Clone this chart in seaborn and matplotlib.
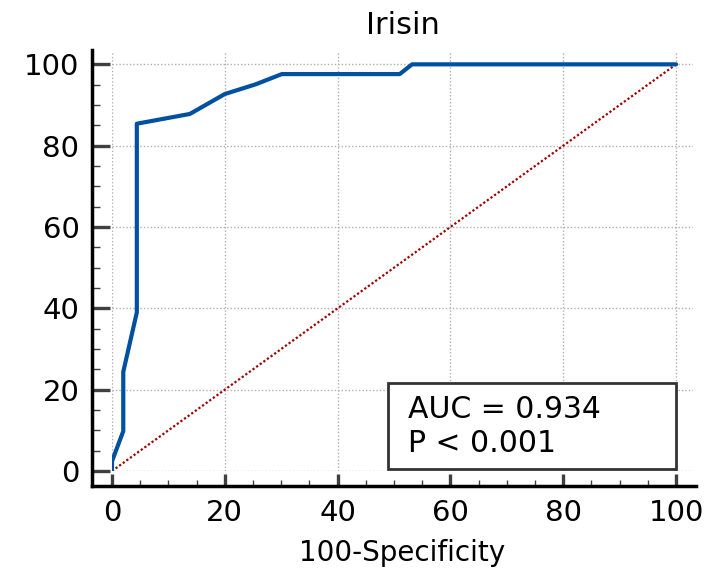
import matplotlib
matplotlib.use("Agg")
import pandas as pd
import seaborn as sns
from matplotlib import pyplot as plt
from matplotlib.patches import Rectangle
from matplotlib.ticker import MultipleLocator

# ROC-Kurve
fpr = [0, 0, 2.0, 2.0, 4.4, 4.4, 13.8, 20.0, 25.5, 30.1, 51.0, 53.2, 100]
tpr = [0, 2.4, 9.8, 24.4, 39.0, 85.4, 87.8, 92.7, 95.1, 97.6, 97.6, 100, 100]
diag = [0, 100]

title = "Irisin"
xlabel = "100-Specificity"
auc_text = "AUC = 0.934\nP < 0.001"

sns.set_style("ticks")
plt.rcParams["font.family"] = ["DejaVu Sans"]
plt.rcParams["text.color"] = "black"
plt.rcParams["axes.labelcolor"] = "black"
plt.rcParams["xtick.color"] = "#404040"
plt.rcParams["ytick.color"] = "#404040"
plt.rcParams["xtick.labelcolor"] = "black"
plt.rcParams["ytick.labelcolor"] = "black"

roc = pd.DataFrame({"fpr": fpr, "tpr": tpr})
ref = pd.DataFrame({"x": diag, "y": diag})

fig = plt.figure(figsize=(7.12, 5.73), dpi=100)
ax = fig.add_axes([0.1573, 0.178, 0.816, 0.731])

sns.lineplot(data=ref, x="x", y="y", ax=ax, color="#a00000", lw=1.6,
             linestyle=(0, (1, 1)), sort=False, estimator=None)
sns.lineplot(data=roc, x="fpr", y="tpr", ax=ax, color="#0050a0", lw=3,
             sort=False, estimator=None)

ax.set_xlim(0, 103)
ax.set_ylim(0, 103)
ax.xaxis.set_major_locator(MultipleLocator(20))
ax.yaxis.set_major_locator(MultipleLocator(20))
ax.xaxis.set_minor_locator(MultipleLocator(5))
ax.yaxis.set_minor_locator(MultipleLocator(5))
ax.grid(True, which="major", color="#b0b0b0", linestyle=(0, (1, 1.5)), lw=1)

for side in ["top", "right"]:
    ax.spines[side].set_visible(False)
ax.spines["left"].set_position(("outward", 14.4))
ax.spines["bottom"].set_position(("outward", 10.8))
for side in ["left", "bottom"]:
    ax.spines[side].set_linewidth(2.5)
    ax.spines[side].set_color("black")
    ax.spines[side].set_clip_on(False)
ax.spines["left"].set_bounds(-3.8, 103.5)
ax.spines["bottom"].set_bounds(-3.6, 103.5)

ax.tick_params(axis="both", which="major", direction="in", width=2.4,
               labelsize=21, left=True, bottom=True)
ax.tick_params(axis="y", which="major", length=13, pad=9)
ax.tick_params(axis="x", which="major", length=9, pad=9)
ax.tick_params(axis="both", which="minor", direction="in", width=1,
               left=True, bottom=True)
ax.tick_params(axis="y", which="minor", length=6)
ax.tick_params(axis="x", which="minor", length=4)

ax.set_xlabel(xlabel, fontsize=20, labelpad=9)
ax.set_ylabel("")
ax.set_title(title, fontsize=22, pad=13)

ax.add_patch(Rectangle((48.9, 0.5), 51.1, 21.1, facecolor="white",
                       edgecolor="#333333", lw=2, zorder=5))
ax.text(52.5, 11.0, auc_text, fontsize=21.5, va="center", ha="left",
        linespacing=1.2, zorder=6)

fig.savefig("out.png", dpi=100)
